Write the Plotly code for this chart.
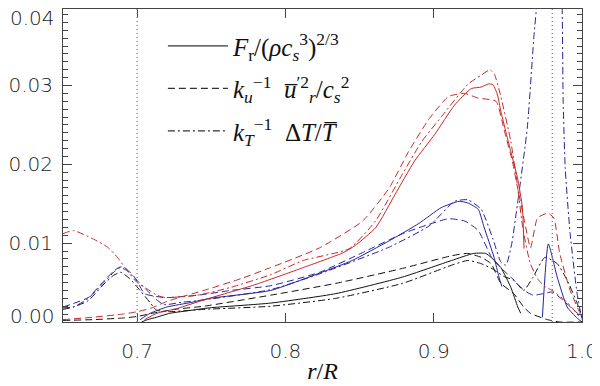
import plotly.graph_objects as go

# radius fractions and values
bk_sol_x = [0.703, 0.707, 0.713, 0.722, 0.737, 0.749, 0.79, 0.834, 0.879, 0.912, 0.927, 0.935, 0.9387, 0.9453, 0.952, 0.9567, 0.9587]
bk_sol_y = [0.0, 0.0003, 0.0006, 0.0011, 0.0015, 0.0018, 0.0024, 0.0036, 0.0057, 0.0078, 0.0087, 0.0087, 0.0082, 0.0069, 0.0044, 0.0019, 0.0011]

bk_dash_x = [0.65, 0.67, 0.69, 0.70, 0.71, 0.725, 0.745, 0.79, 0.834, 0.879, 0.912, 0.923, 0.932, 0.9387, 0.9453, 0.954, 0.9607, 0.9653, 0.9767, 0.985, 1.0]
bk_dash_y = [0.0002, 0.0003, 0.0005, 0.0007, 0.0011, 0.0016, 0.0020, 0.0034, 0.0049, 0.0068, 0.0084, 0.0087, 0.0082, 0.0074, 0.0049, 0.0036, 0.0019, 0.0011, 0.0003, 0.0, 0.0]

bk_dd_x = [0.65, 0.657, 0.667, 0.677, 0.684, 0.689, 0.695, 0.702, 0.709, 0.713, 0.72, 0.745, 0.79, 0.834, 0.879, 0.912, 0.923, 0.932, 0.94, 0.947, 0.954, 0.9607, 0.967, 0.975, 0.9833, 0.99, 0.9967, 1.0]
bk_dd_y = [0.0016, 0.0019, 0.0027, 0.0047, 0.0059, 0.0063, 0.0055, 0.0040, 0.0024, 0.0015, 0.0013, 0.0016, 0.0020, 0.0030, 0.0049, 0.0072, 0.0078, 0.0074, 0.0067, 0.0058, 0.0053, 0.0040, 0.0057, 0.0082, 0.0074, 0.0053, 0.0024, 0.0006]

bl_sol_x = [0.702, 0.7087, 0.72, 0.737, 0.749, 0.79, 0.823, 0.845, 0.87, 0.89, 0.905, 0.917, 0.923, 0.93, 0.934, 0.9407, 0.944, 0.946,
            None, 0.9733, 0.9773, 0.9833, 0.99, 0.9967, 1.0]
bl_sol_y = [0.0003, 0.0011, 0.0019, 0.0025, 0.0030, 0.0040, 0.0062, 0.0078, 0.0103, 0.0125, 0.0145, 0.0153, 0.0151, 0.0143, 0.0120, 0.0082, 0.0057, 0.0045,
            None, 0.0006, 0.0099, 0.0057, 0.0019, 0.0005, 0.0]

bl_dash_x = [0.65, 0.667, 0.677, 0.685, 0.689, 0.693, 0.699, 0.705, 0.719, 0.741, 0.763, 0.79, 0.823, 0.852, 0.879, 0.897, 0.91, 0.921, 0.93, 0.939, 0.945, 0.952, 0.961, 0.967, 0.974, 0.98, 0.987, 0.994, 1.0]
bl_dash_y = [0.0019, 0.0031, 0.0051, 0.0066, 0.0070, 0.0067, 0.0055, 0.0036, 0.0031, 0.0034, 0.0040, 0.0046, 0.0063, 0.0088, 0.0112, 0.0124, 0.0131, 0.0128, 0.0116, 0.0082, 0.0069, 0.0057, 0.0040, 0.0034, 0.0036, 0.0038, 0.0028, 0.0016, 0.0006]

bl_dd_x = [0.65, 0.657, 0.667, 0.677, 0.6853, 0.6887, 0.6933, 0.6987, 0.7067, 0.7133, 0.718, 0.73, 0.745, 0.79, 0.823, 0.87, 0.897, 0.914, 0.923, 0.932, 0.94, 0.9453, 0.9487,
           0.9525, 0.9565, 0.9631, 0.9676, 0.9698, 0.975, 0.982, 0.9865, 0.9873, 0.9887, 0.992, 0.9967, 1.0]
bl_dd_y = [0.0018, 0.0019, 0.0030, 0.0049, 0.0065, 0.0069, 0.0065, 0.0055, 0.0040, 0.0028, 0.0022, 0.0025, 0.0028, 0.0041, 0.0061, 0.0095, 0.0122, 0.0153, 0.0155, 0.0143, 0.0105, 0.0076, 0.0072,
           0.0098, 0.0150, 0.0246, 0.0363, 0.041, 0.06, 0.06, 0.041, 0.028, 0.0195, 0.0112, 0.0036, 0.0003]

rd_sol_x = [0.705, 0.7133, 0.7267, 0.745, 0.779, 0.812, 0.839, 0.847, 0.861, 0.874, 0.887, 0.9007, 0.914, 0.9253, 0.932, 0.937, 0.940, 0.943, 0.9453, 0.952, 0.9565, 0.9598, 0.9609]
rd_sol_y = [0.0003, 0.0011, 0.0017, 0.0028, 0.0047, 0.0069, 0.0088, 0.0097, 0.0120, 0.0162, 0.0204, 0.0238, 0.0275, 0.0296, 0.0298, 0.0302, 0.0301, 0.0288, 0.0267, 0.0216, 0.0183, 0.0145, 0.0093]

rd_dash_x = [0.65, 0.67, 0.69, 0.70, 0.71, 0.72, 0.73, 0.745, 0.77, 0.79, 0.823, 0.852, 0.87, 0.883, 0.897, 0.91, 0.9207, 0.93, 0.942, 0.9473, 0.953, 0.957, 0.961, 0.9653, 0.97, 0.977, 0.981, 0.985, 0.992, 0.9987, 1.0]
rd_dash_y = [0.0003, 0.0006, 0.0010, 0.0013, 0.0018, 0.0026, 0.0032, 0.0040, 0.0055, 0.0069, 0.0094, 0.0128, 0.0170, 0.0216, 0.0258, 0.0286, 0.0290, 0.0284, 0.0280, 0.0245, 0.0204, 0.0166, 0.0130, 0.0094, 0.0132, 0.0138, 0.0132, 0.0087, 0.0040, 0.0011, 0.0005]

rd_dd_x = [0.65, 0.657, 0.6707, 0.68, 0.6867, 0.6933, 0.70, 0.7067, 0.7133, 0.7187, 0.7407, 0.7633, 0.79, 0.812, 0.843, 0.8607, 0.8787, 0.892, 0.905, 0.9233, 0.932, 0.938, 0.941, 0.945, 0.952, 0.9567, 0.96, 0.965, 0.97, 0.975, 0.98, 0.99, 1.0]
rd_dd_y = [0.0112, 0.0116, 0.0105, 0.0095, 0.0082, 0.0065, 0.0050, 0.0042, 0.0034, 0.0031, 0.0034, 0.0044, 0.0060, 0.0078, 0.0093, 0.0128, 0.0187, 0.0229, 0.0260, 0.0302, 0.0313, 0.0320, 0.0314, 0.0288, 0.0229, 0.0170, 0.0120, 0.0075, 0.0055, 0.0045, 0.0040, 0.0025, 0.0003]

# dotted markers of the tachocline and near-surface radius
vlines = [0.7, 0.98]

x_ticks = [0.7, 0.8, 0.9, 1.0]
x_ticktext = ["0.7", "0.8", "0.9", "1.0"]

legend_names = [
    "<i>F</i><sub>r</sub>/(<i>ρc<sub>s</sub></i><sup>3</sup>)<sup>2/3</sup>",
    "<i>k<sub>u</sub></i><sup>−1</sup>  <i>u̅</i><sup>′2</sup><sub><i>r</i></sub>/<i>c<sub>s</sub></i><sup>2</sup>",
    "<i>k<sub>T</sub></i><sup>−1</sup>  Δ<i>T</i>/<i>T̅</i>",
]

RED = "#c62828"
BLUE = "#23239b"
BLACK = "#111111"
DASH = "7px,4px"
DASHDOT = "7px,3px,2px,3px"

curves = [
    (bk_sol_x, bk_sol_y, BLACK, "solid"),
    (bk_dash_x, bk_dash_y, BLACK, DASH),
    (bk_dd_x, bk_dd_y, BLACK, DASHDOT),
    (bl_sol_x, bl_sol_y, BLUE, "solid"),
    (bl_dash_x, bl_dash_y, BLUE, DASH),
    (bl_dd_x, bl_dd_y, BLUE, DASHDOT),
    (rd_sol_x, rd_sol_y, RED, "solid"),
    (rd_dash_x, rd_dash_y, RED, DASH),
    (rd_dd_x, rd_dd_y, RED, DASHDOT),
]

fig = go.Figure()
for xs, ys, col, dash in curves:
    fig.add_trace(go.Scatter(x=xs, y=ys, mode="lines", showlegend=False, connectgaps=False,
                             line=dict(color=col, width=1, dash=dash, shape="spline", smoothing=0.5)))

# legend entries (line style only)
for i, (name, dash) in enumerate(zip(legend_names, ["solid", DASH, DASHDOT])):
    fig.add_trace(go.Scatter(x=[None], y=[None], mode="lines", name=name, legendgroup=str(i),
                             line=dict(color="#333333", width=1.2, dash=dash)))

for xv in vlines:
    fig.add_vline(x=xv, line=dict(color="#888888", width=1.5, dash="1px,3px"))

axis_font = dict(family="DejaVu Sans", size=20, color="#222222", weight=300)

# page body adds an 8px offset, margins compensate for it
fig.update_layout(
    width=600, height=386,
    margin=dict(l=49, r=26, t=0, b=72),
    plot_bgcolor="white", paper_bgcolor="white",
    legend=dict(x=0.1925, y=0.955, xanchor="left", yanchor="top", bgcolor="rgba(0,0,0,0)",
                font=dict(family="Liberation Serif", size=25, color="#111111"),
                tracegroupgap=7, itemwidth=60),
    xaxis=dict(range=[0.65, 1.0], tickmode="array", tickvals=x_ticks, ticktext=x_ticktext,
               ticks="inside", ticklen=9, tickcolor="#444444", mirror="ticks",
               showline=True, linecolor="#444444", linewidth=1, showgrid=False, zeroline=False,
               tickfont=axis_font, ticklabelstandoff=11,
               title=dict(text="<i>r</i>/<i>R</i>", standoff=0,
                          font=dict(family="Liberation Serif", size=24, color="#111111"))),
    yaxis=dict(range=[0, 0.0397], tickmode="linear", tick0=0, dtick=0.01, tickformat=".2f",
               labelalias={"0.00": " ", "0.04": " "},
               ticks="inside", ticklen=9, tickcolor="#444444", mirror="ticks",
               minor=dict(dtick=0.001, ticks="inside", ticklen=5, tickcolor="#444444"),
               showline=True, linecolor="#444444", linewidth=1, showgrid=False, zeroline=False,
               tickfont=axis_font, ticklabelstandoff=5),
)

# end labels of the y axis sit inside the frame
fig.add_annotation(x=0, xref="paper", y=1, yref="paper", yanchor="middle", text="0.04", showarrow=False,
                   xanchor="right", xshift=-6, yshift=-9, font=axis_font)
fig.add_annotation(x=0, xref="paper", y=0, yref="y", text="0.00", showarrow=False,
                   xanchor="right", xshift=-6, yshift=6, font=axis_font)

fig.write_html("out.html")
